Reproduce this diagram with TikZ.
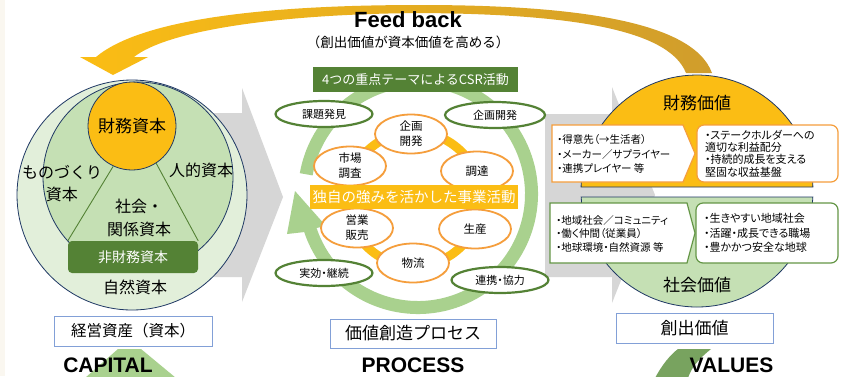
\documentclass[tikz,border=0pt]{standalone}
\usepackage{fontspec}
\setmainfont{Noto Sans CJK JP}
\newfontfamily\jpp{Noto Sans CJK JP}[RawFeature=+palt]
\newfontfamily\latinbold{Liberation Sans}
\usetikzlibrary{shapes.geometric,calc}
\definecolor{yel}{RGB}{251,189,20}
\definecolor{gold}{RGB}{208,157,44}
\definecolor{lgreen}{RGB}{226,239,218}
\definecolor{mgreen}{RGB}{197,224,180}
\definecolor{ringgreen}{RGB}{169,209,142}
\definecolor{dgreen}{RGB}{84,130,53}
\definecolor{gboxc}{RGB}{100,150,70}
\definecolor{navy}{RGB}{31,56,100}
\definecolor{arrowgray}{RGB}{214,214,214}
\definecolor{orng}{RGB}{245,158,60}
\definecolor{lblue}{RGB}{130,160,215}
\definecolor{bgstrip}{RGB}{250,247,240}
\definecolor{valgreen}{RGB}{120,163,95}
\newcommand\fsz[2]{\fontsize{#1}{#2}\selectfont}
\begin{document}
\begin{tikzpicture}[x=1pt,y=-1pt,
  txt/.style={inner sep=0pt,text=black,align=center},
  oell/.style={ellipse,draw=orng,line width=1.8pt,fill=white,inner sep=0pt,minimum width=72pt,minimum height=39pt,font=\fsz{11.5}{15},align=center},
  gell/.style={ellipse,draw=dgreen,line width=2.2pt,fill=white,inner sep=0pt,minimum width=97pt,minimum height=26pt,font=\jpp\fsz{11}{13}},
  labbox/.style={draw=lblue,line width=0.9pt,fill=white,inner sep=0pt},
  bigword/.style={anchor=base,inner sep=0pt,font=\latinbold\bfseries\fsz{21}{21}},
  hdr/.style={inner sep=0pt,text=white}]
\useasboundingbox (0,0) rectangle (846,376);
\fill[white] (0,0) rectangle (846,376);
\fill[bgstrip] (0,0) rectangle (5,376);

% grey process arrows
\fill[arrowgray] (170,113) -- (242,113) -- (242,88) -- (283,197) -- (242,302) -- (242,277) -- (170,277) -- cycle;
\fill[arrowgray] (545,114) -- (612,114) -- (612,87) -- (655,195) -- (612,303) -- (612,277) -- (545,277) -- cycle;

% feedback arrow
\shade[left color=yel,middle color=yel,right color=gold]
  (686,73) .. controls (668,27) and (560,14) .. (420,13)
  .. controls (280,14) and (168,30) .. (134,57)
  -- (148,57) -- (113,75) -- (80,57) -- (96,57)
  .. controls (140,20) and (260,5) .. (420,5)
  .. controls (560,5) and (692,18) .. (712,73) -- cycle;
\node[txt,anchor=base,font=\latinbold\bfseries\fsz{22}{22}] (fb) at (408,27) {Feed back};
\node[txt,font=\fsz{13.5}{16}] (fbsub) at (408,42) {（創出価値が資本価値を高める）};

% ---------- CAPITAL ----------
\node[circle,draw=navy,line width=0.8pt,fill=lgreen,minimum size=230pt,inner sep=0pt] (outer) at (132,195) {};
\node[circle,draw=navy,line width=0.8pt,fill=mgreen,minimum size=190pt,inner sep=0pt] (inner) at (138,177) {};
\node[fill=dgreen,rounded corners=4pt,minimum width=130pt,minimum height=32pt,inner sep=0pt,text=white,font=\fsz{14}{16}] (nf) at (133,257) {非財務資本};
\node[circle,draw=navy,line width=0.8pt,fill=yel,minimum size=88pt,inner sep=0pt,font=\fsz{17}{20}] (fin) at (132,126) {財務資本};
\draw[dgreen,line width=0.9pt] (fin.245) -- (nf.north west);
\draw[dgreen,line width=0.9pt] (fin.303) -- (nf.north east);
\node[txt,font=\fsz{16}{22}] (mono) at (62,184) {ものづくり\\資本};
\node[txt,font=\fsz{16}{22}] (jin) at (201,170) {人的資本};
\node[txt,font=\fsz{16}{23}] (shakai) at (139,218) {社会・\\関係資本};
\node[txt,font=\fsz{16}{20}] (shizen) at (135,287) {自然資本};
\node[labbox,minimum width=158pt,minimum height=30pt,font=\fsz{15.5}{18}] (keiei) at (133,331) {経営資産（資本）};
\fill[ringgreen] (118,349) -- (141,349) -- (176,378) -- (85,378) -- cycle;
\node[bigword] (cap) at (108,372.5) {CAPITAL};

% ---------- PROCESS ----------
\coordinate (C) at (418,194);
\fill[ringgreen] ($(C)+(190:120)$) arc[start angle=190,end angle=521.5,radius=120]
  -- (287,234) -- (295,191) -- (326,226) -- ($(C)+(521.5:107)$)
  arc[start angle=521.5,end angle=190,radius=107] -- cycle;
\node[fill=dgreen,hdr,minimum width=205pt,minimum height=25pt,font=\fsz{13}{15}] (csr) at (415.5,79.5) {4つの重点テーマによるCSR活動};
\draw[yel,line width=9pt] (414,199) circle[radius=67];
\node[oell] (kikaku) at (411,134) {企画\\開発};
\node[oell] (ichiba) at (350,166) {市場\\調査};
\node[oell] (chotatsu) at (477,171) {調達};
\node[oell] (eigyo) at (357,228) {営業\\販売};
\node[oell] (seisan) at (475,229) {生産};
\node[oell] (butsuryu) at (413,263) {物流};
\node[fill=yel,hdr,minimum width=208pt,minimum height=24pt,font=\fsz{14.5}{16}] (dokuji) at (414,197) {独自の強みを活かした事業活動};
\node[gell] (kadai) at (324,114) {課題発見};
\node[gell,minimum width=100pt] (kikaku2) at (495,115) {企画開発};
\node[gell] (jikko) at (324,273) {実効・継続};
\node[gell] (renkei) at (500,280) {連携・協力};
\node[labbox,minimum width=166pt,minimum height=29pt,font=\fsz{17}{20}] (kachi) at (413,333.5) {価値創造プロセス};
\node[bigword] (proc) at (413,372.5) {PROCESS};

% ---------- VALUES ----------
\fill[yel,draw=navy,line width=0.8pt] (581.07,187) arc[start angle=181.98,end angle=358.02,radius=116] -- cycle;
\fill[mgreen,draw=navy,line width=0.8pt] (812.84,197) arc[start angle=2.965,end angle=177.035,radius=116] -- cycle;
\node[txt,font=\fsz{17}{20}] (zaimu) at (697,103) {財務価値};
\node[txt,font=\fsz{17}{20}] (shakaikachi) at (697,285) {社会価値};
\draw[orng,fill=white,line width=1.2pt] (552,125) -- (683,125) -- (695,153.5) -- (683,182) -- (552,182) -- cycle;
\node[txt,anchor=west,align=left,font=\jpp\fsz{10.5}{14.5}] (tokui) at (557,154) {・得意先（→生活者）\\・メーカー／サプライヤー\\・連携プレイヤー 等};
\node[draw=orng,fill=white,line width=1.2pt,rounded corners=7pt,minimum width=141pt,minimum height=57pt,inner xsep=8pt,inner ysep=0pt,text width=125pt,align=left,font=\jpp\fsz{11}{12.4}] (rieki) at (767.5,153.5) {・ステークホルダーへの\\適切な利益配分\\・持続的成長を支える\\堅固な収益基盤};
\draw[gboxc,fill=white,line width=1.2pt] (550,203) -- (687,203) -- (695,233) -- (687,263) -- (550,263) -- cycle;
\node[txt,anchor=west,align=left,font=\jpp\fsz{10.5}{13.5}] (chiiki) at (556,233.5) {・地域社会／コミュニティ\\・働く仲間（従業員）\\・地球環境・自然資源 等};
\node[draw=gboxc,fill=white,line width=1.2pt,rounded corners=7pt,minimum width=142pt,minimum height=60pt,inner xsep=8pt,inner ysep=0pt,text width=126pt,align=left,font=\jpp\fsz{11}{14.5}] (ikiyasui) at (767,233) {・生きやすい地域社会\\・活躍・成長できる職場\\・豊かかつ安全な地球};
\node[labbox,minimum width=157pt,minimum height=30pt,font=\fsz{17}{20}] (soshutsu) at (694.5,328) {創出価値};
\fill[valgreen] (678,349) -- (711,349) .. controls (700,358) and (692,366) .. (688,378) -- (655,378) .. controls (662,365) and (670,355) .. (678,349) -- cycle;
\node[bigword] (val) at (731.5,372.5) {VALUES};
\end{tikzpicture}
\end{document}
